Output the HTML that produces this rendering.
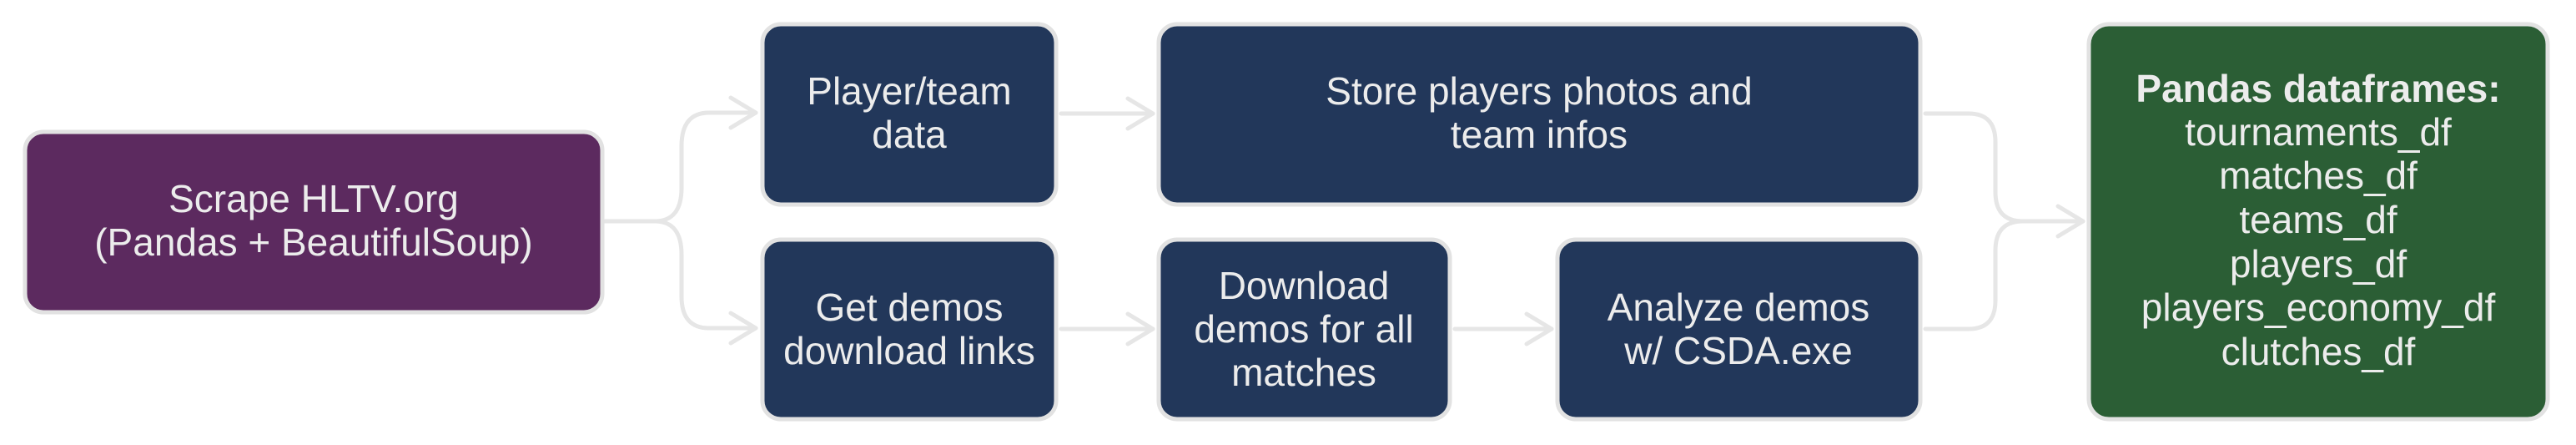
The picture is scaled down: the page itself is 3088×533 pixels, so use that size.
<!DOCTYPE html>
<html><head><meta charset="utf-8"><style>
html,body{margin:0;padding:0;background:#fff;}
svg{display:block}
text{font-family:"Liberation Sans",sans-serif;fill:#ececec;font-size:46px;text-anchor:middle}
</style></head><body>
<svg width="3088" height="533" viewBox="0 0 3088 533">
<g fill="none" stroke="#e6e6e6" stroke-width="5" stroke-linecap="round" stroke-linejoin="round">
<path d="M724 265 H785 Q817 265 817 225 V175 Q817 135 850 135 H906"/>
<path d="M724 265 H785 Q817 265 817 305 V355 Q817 393 850 393 H906"/>
<path d="M876 117 L906 135 L876 153"/><path d="M876 375 L906 393 L876 411"/>
<path d="M1272 136 H1382"/><path d="M1352 118 L1382 136 L1352 154"/>
<path d="M1272 394 H1382"/><path d="M1352 376 L1382 394 L1352 412"/>
<path d="M1744 394 H1860"/><path d="M1830 376 L1860 394 L1830 412"/>
<path d="M2308 136 H2360 Q2392 136 2392 170 V230 Q2392 265 2425 265 H2497"/>
<path d="M2308 394 H2360 Q2392 394 2392 360 V300 Q2392 265 2425 265"/>
<path d="M2467 247 L2497 265 L2467 283"/>
</g>
<g stroke="#e2e2e2" stroke-width="5">
<rect x="30" y="158" width="692" height="216" rx="22" fill="#5c2a5f"/>
<rect x="914" y="29" width="352" height="216" rx="22" fill="#22375a"/>
<rect x="914" y="287" width="352" height="215" rx="22" fill="#22375a"/>
<rect x="1389" y="29" width="913" height="216" rx="22" fill="#22375a"/>
<rect x="1389" y="287" width="349" height="215" rx="22" fill="#22375a"/>
<rect x="1867" y="287" width="435" height="215" rx="22" fill="#22375a"/>
<rect x="2504" y="29" width="550" height="473" rx="24" fill="#2b5e35"/>
</g>
<text x="376" y="254">Scrape HLTV.org</text>
<text x="376" y="306">(Pandas + BeautifulSoup)</text>
<text x="1090" y="125">Player/team</text>
<text x="1090" y="177">data</text>
<text x="1090" y="384">Get demos</text>
<text x="1090" y="436">download links</text>
<text x="1845" y="125">Store players photos and</text>
<text x="1845" y="177">team infos</text>
<text x="1563" y="358">Download</text>
<text x="1563" y="410">demos for all</text>
<text x="1563" y="462">matches</text>
<text x="2084" y="384">Analyze demos</text>
<text x="2084" y="436">w/ CSDA.exe</text>
<g>
<text x="2779" y="122" font-weight="bold">Pandas dataframes:</text>
<text x="2779" y="174">tournaments_df</text>
<text x="2779" y="226">matches_df</text>
<text x="2779" y="279">teams_df</text>
<text x="2779" y="332">players_df</text>
<text x="2779" y="384">players_economy_df</text>
<text x="2779" y="437">clutches_df</text>
</g>
</svg>
</body></html>
